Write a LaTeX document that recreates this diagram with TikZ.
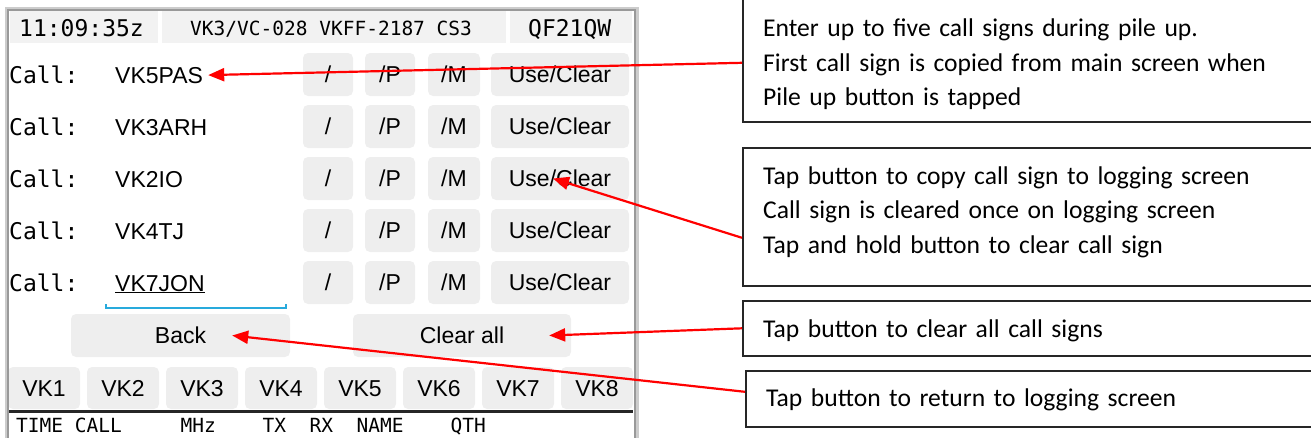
\documentclass[tikz,border=0pt]{standalone}
\usepackage{fontspec}
\usetikzlibrary{arrows.meta}
\newfontfamily\notefont{Carlito}
\newfontfamily\appfont{Liberation Sans}
\newfontfamily\appmono{DejaVu Sans Mono}
\definecolor{btngray}{RGB}{238,238,238}
\definecolor{bargray}{RGB}{242,242,242}
\definecolor{focusblue}{RGB}{40,170,220}
\tikzset{monotext/.style = {inner sep=0, font=\appmono\fontsize{23}{26}\selectfont}}
\tikzset{uitext/.style = {inner sep=0, inner xsep=5pt, font=\appfont\fontsize{23}{26}\selectfont}}
\tikzset{btn/.style = {fill=btngray, rounded corners=5pt, inner sep=0, minimum height=43, text height=16.5pt, text depth=0pt, font=\appfont\fontsize{23}{26}\selectfont}}
\tikzset{callbox/.style = {draw=black!85, line width=1.6pt, minimum width=620, inner sep=0}}
\tikzset{notetext/.style = {anchor=base west, inner sep=0, text width=540, align=left, font=\notefont\fontsize{25.6}{34.5}\selectfont}}
\tikzset{pointer/.style = {draw=red, line width=2.2pt, -{Triangle[length=16pt,width=13pt]}}}
\def\rowA{74.5}
\def\rowH{52}
\def\capC{8.5}

\begin{document}
\begin{tikzpicture}[x=1pt, y=-1pt]
		\useasboundingbox (0,0) rectangle (1311,437);
		\clip (0,0) rectangle (1311,437);
		
		% Header
		\fill[bargray] (10,10) rectangle (158,43);
		\fill[bargray] (162,10) rectangle (506,43);
		\fill[bargray] (510,10) rectangle (632,43);
		\node[monotext, anchor=base west] (clock) at (19,36) {11:09:35z};
		\node[monotext, font=\appmono\fontsize{19.5}{22}\selectfont, anchor=base west] (ref) at (190,35) {VK3/VC-028 VKFF-2187 CS3};
		\node[monotext, anchor=base west] (grid) at (528,36) {QF21QW};
		
		% Call rows
		\foreach \c [count=\i] in {VK5PAS, VK3ARH, VK2IO, VK4TJ, \underline{VK7JON}}
		{
			\pgfmathsetmacro\yc{\rowA+(\i-1)*\rowH}
			\node[monotext, anchor=base west] (call\i) at (9,\yc+\capC) {Call:};
			\node[uitext, anchor=base west] (c\i) at (110,\yc+\capC) {\c};
			% Suffix buttons
			\node[btn, minimum width=50] (s\i) at (328,\yc) {/};
			\node[btn, minimum width=50] (p\i) at (390,\yc) {/P};
			\node[btn, minimum width=52] (m\i) at (454,\yc) {/M};
			\node[btn, minimum width=138] (u\i) at (560,\yc) {Use/Clear};
		}
		%% Focus line
		\draw[focusblue, line width=1.2pt] (106,304) -- (106,308) -- (286,308) -- (286,304);
		
		% Back and Clear all
		\node[btn, minimum width=219] (back) at (180.5,335.5) {Back};
		\node[btn, minimum width=218] (clearall) at (462,335.5) {Clear all};
		
		% Region buttons
		\foreach \i in {1, ..., 8}
		{
			\node[btn, minimum width=72, minimum height=42] (vk\i) at ({44+(\i-1)*79}, 388) {VK\i};
		}
		
		% Footer
		\draw[line width=3pt, black!85] (8,411) -- (633,411);
		\node[monotext, font=\appmono\fontsize{19.5}{22}\selectfont, anchor=base west] (footer) at (16,432) {TIME~CALL~~~~~MHz~~~~TX~~RX~~NAME~~~~QTH};
		
		% Frame
		\draw[gray!40, line width=3pt] (6,8) rectangle (637,470);
		\draw[gray!80, line width=1.5pt] (8,10) rectangle (635,470);
		
		% Callout boxes
		\node[callbox, minimum height=151, anchor=north west] (box1) at (742,-30) {};
		\node[callbox, minimum height=138, anchor=north west] (box2) at (742,147) {};
		\node[callbox, minimum height=55, anchor=north west] (box3) at (742,300) {};
		\node[callbox, minimum height=56, anchor=north west] (box4) at (745,370) {};
		
		% Callout text
		\node[notetext] (note1) at (763,36.6) {Enter up to five call signs during pile up.\\First call sign is copied from main screen when\\Pile up button is tapped};
		\node[notetext] (note2) at (763,184) {Tap button to copy call sign to logging screen\\Call sign is cleared once on logging screen\\Tap and hold button to clear call sign};
		\node[notetext] (note3) at (763,337) {Tap button to clear all call signs};
		\node[notetext] (note4) at (766,406) {Tap button to return to logging screen};
		
		% Pointers
		\draw[pointer] ([yshift=-16.5pt]box1.west) -- (c1.east);
		\draw[pointer] ([yshift=-21pt]box2.west) -- ([xshift=-7pt]u3.center);
		\draw[pointer] (box3.west) -- ([xshift=-22pt]clearall.east);
		\draw[pointer] ([yshift=7pt]box4.west) -- ([xshift=-58pt]back.east);
	\end{tikzpicture}
\end{document}
